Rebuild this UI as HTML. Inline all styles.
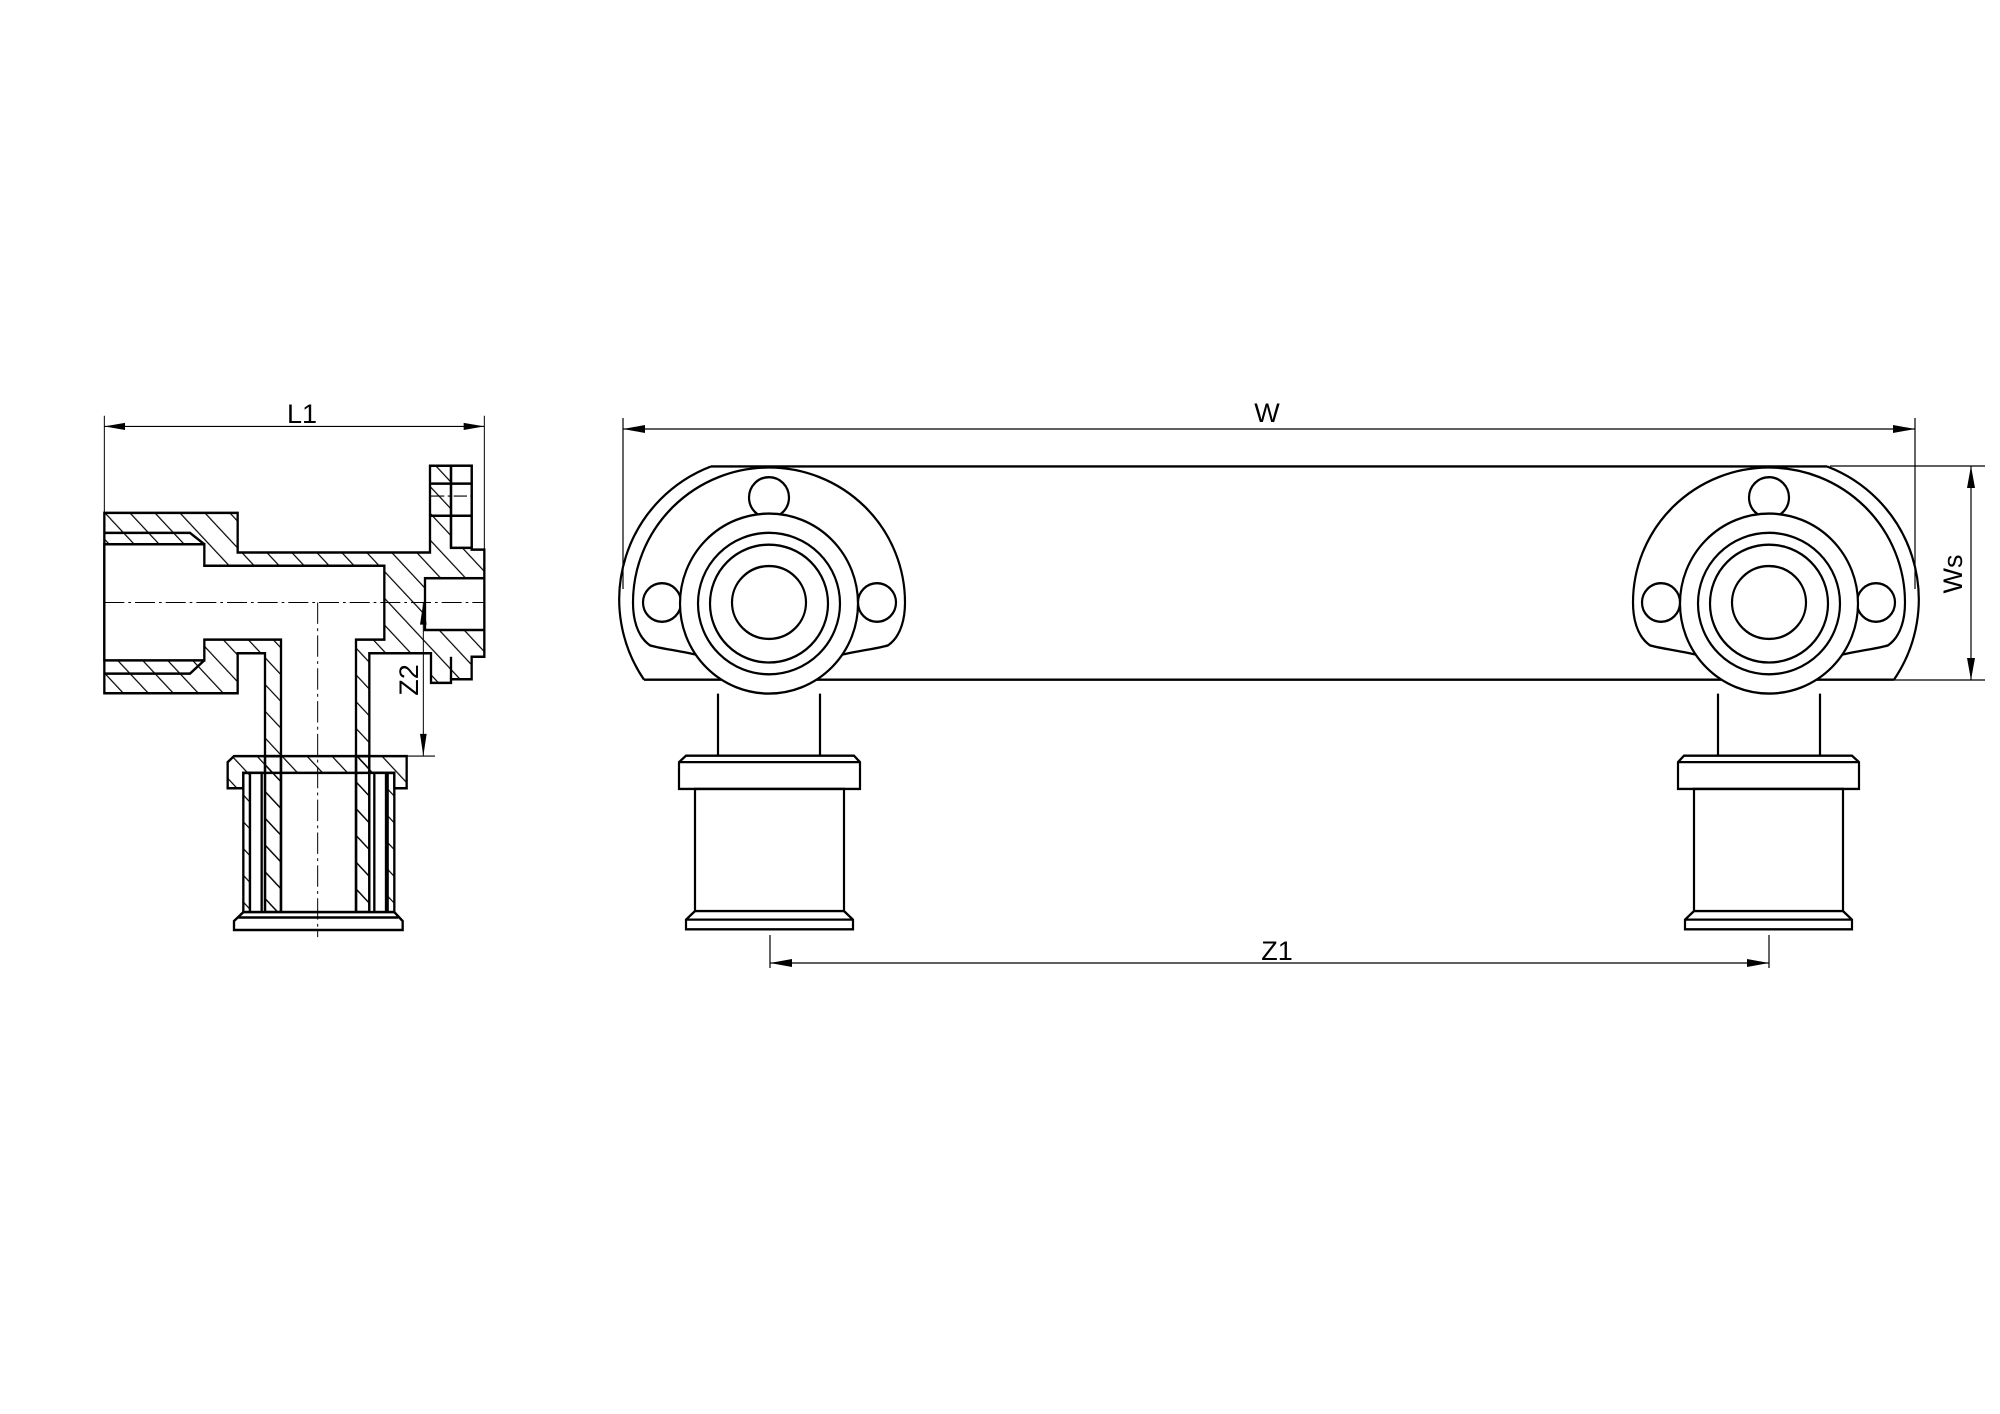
<!DOCTYPE html>
<html><head><meta charset="utf-8"><style>
html,body{margin:0;padding:0;background:#fff}
svg{display:block}
text{font-family:"Liberation Sans",sans-serif;fill:#000}
</style></head><body>
<svg width="2000" height="1414" viewBox="0 0 2000 1414" xmlns="http://www.w3.org/2000/svg">
<defs>
<pattern id="h" patternUnits="userSpaceOnUse" width="53" height="53" patternTransform="rotate(-45)">
<line x1="0" y1="0" x2="0" y2="53" stroke="#000" stroke-width="7"/>
</pattern>
</defs>

<!-- ===== Left section view ===== -->
<g transform="translate(80,380) scale(0.33333,0.35714)" fill="none" stroke="#000" stroke-width="7" stroke-linejoin="miter">
  <path fill="url(#h)" d="M73,372 L473,372 L473,483 L1050,483 L1050,240 L1175,240 L1175,475 L1213,475 L1213,775 L1175,775 L1175,838 L1113,838 L1113,848 L1053,848 L1053,765 L868,765 L868,1490 L828,1490 L828,1053 L603,1053 L603,1490 L555,1490 L555,765 L473,765 L473,877 L73,877 Z"/>
  <rect x="1113" y="240" width="62" height="230" fill="#fff"/>
  <path d="M1053,290 L1175,290 M1053,380 L1175,380 M1113,240 L1113,470"/>
  <path d="M1053,325 L1175,325" stroke-width="3" stroke-dasharray="40,10,8,10"/>
  <path fill="#fff" d="M73,460 L373,460 L373,520 L913,520 L913,727 L828,727 L828,1490 L603,1490 L603,727 L373,727 L373,785 L73,785 Z"/>
  <rect x="1035" y="555" width="178" height="145" fill="#fff"/>
  <path d="M73,428 L330,428 L373,460 M73,822 L330,822 L373,785" />
  <path d="M1113,775 L1113,838"/>
  <path fill="url(#h)" d="M462,1053 L980,1053 L980,1090 L980,1143 L943,1143 L943,1100 L490,1100 L490,1143 L443,1143 L443,1070 Z"/>
  <path fill="url(#h)" d="M490,1100 L510,1100 L510,1490 L490,1490 Z"/>
  <path fill="url(#h)" d="M923,1100 L943,1100 L943,1490 L923,1490 Z"/>
  <path fill="#fff" d="M510,1100 L545,1100 L545,1490 L510,1490 Z"/>
  <path fill="#fff" d="M883,1100 L918,1100 L918,1490 L883,1490 Z"/>
  <path fill="url(#h)" d="M555,1053 L603,1053 L603,1490 L555,1490 Z"/>
  <path fill="url(#h)" d="M828,1053 L868,1053 L868,1490 L828,1490 Z"/>
  <path fill="#fff" d="M490,1490 L943,1490 L968,1515 L968,1540 L462,1540 L462,1515 Z"/>
  <path d="M475,1505 L955,1505"/>
  <path d="M73,623 L1213,623" stroke-width="3" stroke-dasharray="60,12,8,12"/>
  <path d="M713,623 L713,1560" stroke-width="3" stroke-dasharray="60,12,8,12"/>
  <path d="M1030,623 L1030,1053 M868,1053 L1065,1053" stroke-width="3"/>
  <path fill="#000" stroke="none" d="M1030,623 L1020,685 L1040,685 Z M1030,1053 L1020,991 L1040,991 Z"/>
  <path d="M73,100 L73,372 M1213,100 L1213,475 M73,130 L1213,130" stroke-width="3"/>
  <path fill="#000" stroke="none" d="M73,130 L135,120 L135,140 Z M1213,130 L1151,120 L1151,140 Z"/>
</g>
<text x="302" y="423" font-size="27" text-anchor="middle">L1</text>
<text transform="translate(418,680) rotate(-90)" font-size="27" text-anchor="middle">Z2</text>

<!-- ===== Right view ===== -->
<g transform="translate(0,400) scale(1,1.0714) translate(0,-400)">
<g fill="none" stroke="#000" stroke-width="2.2">
  <path d="M711,462 L1827,462 M644,661 L1894,661"/>
  <g id="u">
    <path d="M644,661 A143 133 0 0 1 711,462"/>
    <path d="M697,638 C680,634 660,632 650,629 C636,620 633,602 633,589 A136 126 0 0 1 905,589 C905,602 902,620 888,629 C878,632 858,634 841,638"/>
    <ellipse cx="769" cy="491" rx="20" ry="19"/>
    <ellipse cx="662" cy="589" rx="19" ry="18"/>
    <ellipse cx="877" cy="589" rx="19" ry="18"/>
    <ellipse cx="769" cy="590" rx="89" ry="84" fill="#fff"/>
    <ellipse cx="769" cy="590" rx="71" ry="66"/>
    <ellipse cx="769" cy="590" rx="59" ry="55"/>
    <ellipse cx="769" cy="589" rx="37" ry="34"/>
    <path d="M718,674 L718,732 M820,674 L820,732"/>
    <path d="M679,763 L679,738 L686,732 L854,732 L860,738 L860,763 Z M679,738 L860,738"/>
    <rect x="695" y="763" width="149" height="114"/>
    <path d="M695,877 L686,885 L686,894 L853,894 L853,885 L844,877 M686,885 L853,885"/>
  </g>
  <use href="#u" transform="translate(2538,0) scale(-1,1)"/>
</g>
</g>
<!-- dimensions -->
<g stroke="#000" stroke-width="1.2" fill="none">
  <path d="M623,418 L623,589 M1915,418 L1915,589 M623,429 L1915,429"/>
  <path d="M1830,466 L1985,466 M1894,680 L1985,680 M1971,466 L1971,680"/>
  <path d="M770,935 L770,968 M1769,935 L1769,968 M770,963 L1769,963"/>
</g>
<g fill="#000">
  <path d="M623,429 L645,425 L645,433 Z M1915,429 L1893,425 L1893,433 Z"/>
  <path d="M1971,466 L1967,488 L1975,488 Z M1971,680 L1967,658 L1975,658 Z"/>
  <path d="M770,963 L792,959 L792,967 Z M1769,963 L1747,959 L1747,967 Z"/>
</g>
<text x="1267" y="422" font-size="27" text-anchor="middle">W</text>
<text x="1277" y="960" font-size="27" text-anchor="middle">Z1</text>
<text transform="translate(1962,574) rotate(-90)" font-size="27" text-anchor="middle">Ws</text>
</svg>
</body></html>
